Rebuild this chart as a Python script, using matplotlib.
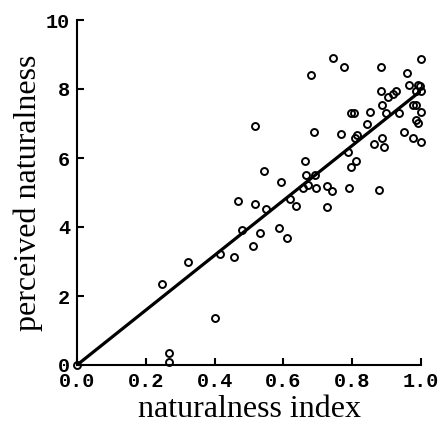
import matplotlib
matplotlib.use("Agg")
import matplotlib.pyplot as plt

# data
naturalness_index = [
    0.0, 0.267, 0.267, 0.401, 0.248, 0.322, 0.417, 0.456, 0.512, 0.480,
    0.532, 0.587, 0.611, 0.467, 0.517, 0.549, 0.620, 0.638, 0.726, 0.544,
    0.594, 0.665, 0.692, 0.672, 0.658, 0.694, 0.726, 0.741, 0.791, 0.877,
    0.662, 0.796, 0.810, 0.787, 0.516, 0.689, 0.767, 0.813, 0.808, 0.843,
    0.862, 0.893, 0.888, 0.951, 0.978, 1.0, 0.985, 0.990, 0.796, 0.804,
    0.852, 0.898, 0.937, 1.0, 0.888, 0.976, 0.985, 0.903, 0.920, 0.927,
    0.883, 0.985, 1.0, 0.966, 0.990, 0.998, 0.958, 0.679, 0.775, 0.883,
    0.744, 1.0,
]
perceived_naturalness = [
    0.0, 0.10, 0.36, 1.35, 2.35, 3.00, 3.23, 3.14, 3.46, 3.91,
    3.84, 3.96, 3.69, 4.75, 4.67, 4.52, 4.81, 4.62, 4.57, 5.63,
    5.31, 5.51, 5.51, 5.22, 5.12, 5.14, 5.19, 5.04, 5.13, 5.07,
    5.91, 5.73, 5.92, 6.16, 6.93, 6.74, 6.70, 6.67, 6.57, 6.98,
    6.42, 6.31, 6.57, 6.76, 6.57, 6.47, 7.10, 7.02, 7.30, 7.30,
    7.34, 7.29, 7.29, 7.34, 7.53, 7.54, 7.54, 7.78, 7.86, 7.95,
    7.93, 7.93, 7.93, 8.12, 8.13, 8.08, 8.45, 8.40, 8.63, 8.63,
    8.91, 8.86,
]
fit_x = [0.0, 1.0]
fit_y = [0.0, 7.95]

x_ticks = [0.0, 0.2, 0.4, 0.6, 0.8, 1.0]
x_tick_labels = ["0.0", "0.2", "0.4", "0.6", "0.8", "1.0"]
y_ticks = [0, 2, 4, 6, 8, 10]
y_tick_labels = ["0", "2", "4", "6", "8", "10"]

fig = plt.figure(figsize=(4.46, 4.28), dpi=100)
ax = fig.add_axes([77 / 446, 63 / 428, 344 / 446, 345 / 428])

ax.plot(fit_x, fit_y, color="black", lw=2.3, solid_capstyle="butt", zorder=2)
ax.plot(naturalness_index, perceived_naturalness, linestyle="none", marker="o",
        markersize=5, markerfacecolor="none", markeredgecolor="black",
        markeredgewidth=1.4, clip_on=False, zorder=3)

ax.set_xlim(0, 1.0)
ax.set_ylim(0, 10)
ax.set_xticks(x_ticks)
ax.set_xticklabels(x_tick_labels)
ax.set_yticks(y_ticks)
ax.set_yticklabels(y_tick_labels)

for sp in ["top", "right"]:
    ax.spines[sp].set_visible(False)
for sp in ["left", "bottom"]:
    ax.spines[sp].set_linewidth(1.5)

ax.tick_params(direction="in", length=5, width=1.5)
ax.tick_params(axis="x", pad=5)
ax.tick_params(axis="y", pad=5)
for lab in ax.get_xticklabels() + ax.get_yticklabels():
    lab.set_fontfamily("Liberation Mono")
    lab.set_fontweight("bold")
    lab.set_fontsize(14.5)

ax.set_xlabel("naturalness index", fontfamily="Liberation Serif", fontsize=23, labelpad=3)
ax.set_ylabel("perceived naturalness", fontfamily="Liberation Serif", fontsize=23, labelpad=2)

fig.savefig("out.png", dpi=100)
